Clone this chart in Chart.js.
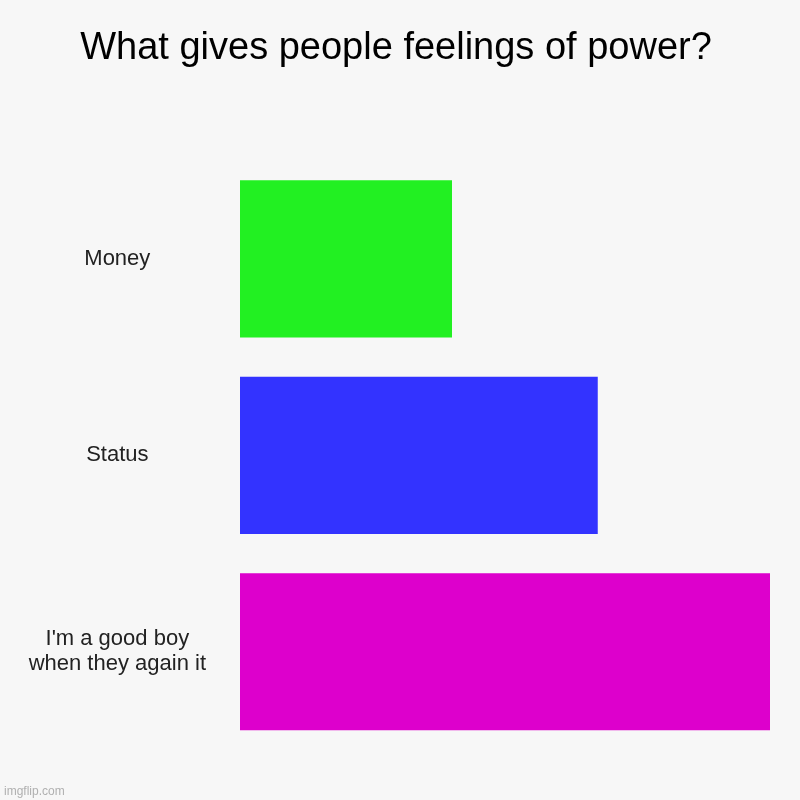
<!DOCTYPE html>
<html>
<head>
<meta charset="utf-8">
<script src="https://cdn.jsdelivr.net/npm/chart.js@4"></script>
<style>
html,body{margin:0;padding:0;background:#f7f7f7;}
#wrap{width:800px;height:800px;}
</style>
</head>
<body>
<div id="wrap"><canvas id="c" width="800" height="800"></canvas></div>
<script>
const titleText = 'What gives people feelings of power?';
const categories = ['Money', 'Status', ["I'm a good boy", 'when they again it']];
const values = [40, 67.5, 100];
const barColors = ['#22f022', '#3333ff', '#dd00cc'];
const watermark = 'imgflip.com';

const bgPlugin = {
  id: 'bg',
  beforeDraw(chart) {
    const ctx = chart.ctx;
    ctx.save();
    ctx.fillStyle = '#f7f7f7';
    ctx.fillRect(0, 0, chart.width, chart.height);
    ctx.restore();
  },
  afterDraw(chart) {
    const ctx = chart.ctx;
    ctx.save();
    ctx.fillStyle = '#b0b0b0';
    ctx.font = '12px "Liberation Sans", Arial, sans-serif';
    ctx.textBaseline = 'alphabetic';
    ctx.textAlign = 'left';
    ctx.fillText(watermark, 4, 795);
    ctx.restore();
  }
};

new Chart(document.getElementById('c'), {
  type: 'bar',
  data: {
    labels: categories,
    datasets: [{
      data: values,
      backgroundColor: barColors,
      borderWidth: 0,
      categoryPercentage: 0.8,
      barPercentage: 1.0
    }]
  },
  options: {
    indexAxis: 'y',
    responsive: false,
    animation: false,
    devicePixelRatio: 1,
    layout: { padding: { left: 22, right: 30, top: 0, bottom: 50 } },
    plugins: {
      legend: { display: false },
      tooltip: { enabled: false },
      title: {
        display: true,
        text: titleText,
        color: '#000',
        font: { family: '"Liberation Sans", Arial, sans-serif', size: 38, weight: 'normal', lineHeight: 1.2 },
        padding: { top: 26, bottom: 89 }
      }
    },
    scales: {
      x: { display: false, min: 0, max: 100 },
      y: {
        grid: { display: false, drawTicks: false },
        border: { display: false },
        ticks: {
          color: '#222',
          crossAlign: 'center',
          padding: 34,
          font: { family: '"Liberation Sans", Arial, sans-serif', size: 22, lineHeight: 1.15 }
        },
        afterFit(scale) { scale.width = 218; }
      }
    }
  },
  plugins: [bgPlugin]
});
</script>
</body>
</html>
